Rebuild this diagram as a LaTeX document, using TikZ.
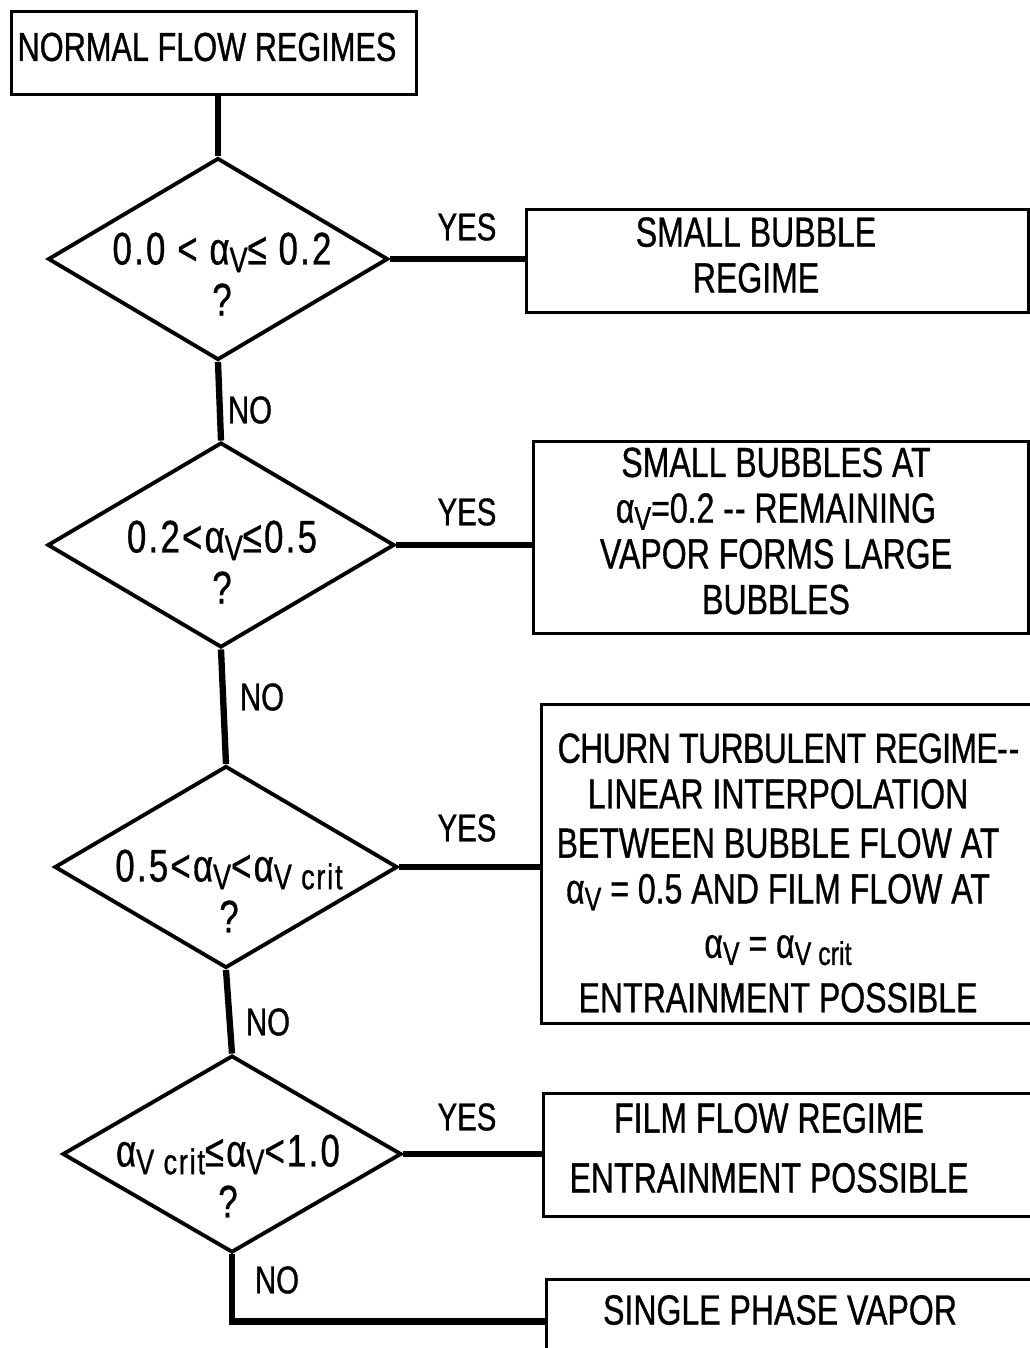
\documentclass[tikz,border=0pt]{standalone}
\usepackage{fontspec}
\setmainfont{Liberation Sans}[FakeStretch=0.76,FakeBold=0.8]
\usepackage{graphicx}
\usetikzlibrary{shapes.geometric}
\newcommand\sv[1]{\raisebox{-0.32ex}{\scalebox{0.78}{#1}}}
\newcommand\av{α\sv{V}}
\newcommand\avc{α\sv{V crit}}
\newcommand\pxl[1]{#1*0.02cm}
\newcommand\dd{-\kern0.5pt-}
\begin{document}
\begin{tikzpicture}[x=0.02cm,y=-0.02cm,
  box/.style={draw,line width=1.7pt,rectangle,inner sep=0pt,anchor=north west},
  dia/.style={draw,line width=2.2pt,diamond,inner sep=0pt},
  conn/.style={line width=3.6pt},
  txt/.style={font=\fontsize{24}{26}\selectfont,inner sep=0pt,align=center},
  qtxt/.style={font=\fontsize{26}{29}\selectfont\addfontfeature{LetterSpace=5},inner sep=0pt,align=center},
  ttl/.style={font=\fontsize{23}{26}\selectfont,inner sep=0pt},
  lab/.style={font=\fontsize{22}{25}\selectfont,inner sep=0pt}]
\clip (0,0) rectangle (1030,1348);
\fill[white] (0,0) rectangle (1030,1348);

% top box
\node[box,minimum width=\pxl{405},minimum height=\pxl{83}] (b0) at (10,10) {};
\node[ttl] (t0) at (207,47) {NORMAL FLOW REGIMES};

% diamonds
\node[dia,minimum width=\pxl{340},minimum height=\pxl{202}] (d1) at (218,259) {};
\node[qtxt] (q1) at (222,274) {0.0 < \av ≤ 0.2\\?};
\node[dia,minimum width=\pxl{347},minimum height=\pxl{205}] (d2) at (221,545) {};
\node[qtxt] (q2) at (222,562) {0.2<\av≤0.5\\?};
\node[dia,minimum width=\pxl{343},minimum height=\pxl{202}] (d3) at (226,867) {};
\node[qtxt] (q3) at (229,891) {0.5<\av<\avc\\?};
\node[dia,minimum width=\pxl{339},minimum height=\pxl{197}] (d4) at (232,1154) {};
\node[qtxt] (q4) at (228,1176) {\avc≤\av<1.0\\?};

% result boxes
\node[box,minimum width=\pxl{502},minimum height=\pxl{103}] (b1) at (525,208) {};
\node[txt] (r1) at (756,255) {SMALL BUBBLE\\REGIME};
\node[box,minimum width=\pxl{495},minimum height=\pxl{192}] (b2) at (532,440) {};
\node[txt] (r2) at (776,531) {SMALL BUBBLES AT\\\av=0.2 \dd{} REMAINING\\VAPOR FORMS LARGE\\BUBBLES};
\node[box,minimum width=\pxl{500},minimum height=\pxl{319}] (b3) at (540,703) {};
\node[txt] (r3) at (778,873) {\hspace*{12pt}{\addfontfeature{LetterSpace=-1.5}CHURN TURBULENT REGIME\dd}\\LINEAR INTERPOLATION\\[2pt]BETWEEN BUBBLE FLOW AT\\\av{} = 0.5 AND FILM FLOW AT\\[5pt]\av{} = \avc\\[5pt]ENTRAINMENT POSSIBLE};
\node[box,minimum width=\pxl{500},minimum height=\pxl{123}] (b4) at (542,1092) {};
\node[txt] (r4) at (769,1148) {FILM FLOW REGIME\\[8pt]ENTRAINMENT POSSIBLE};
\node[box,minimum width=\pxl{500},minimum height=\pxl{84}] (b5) at (545,1278) {};
\node[txt] (r5) at (780,1310) {SINGLE PHASE VAPOR};

% connectors
\draw[conn] (d1.north |- b0.south) -- (d1.north);
\draw[conn] (d1.south) -- (d2.north);
\draw[conn] (d2.south) -- (d3.north);
\draw[conn] (d3.south) -- (d4.north);
\draw[conn] (d4.south) -- (d4.south |- b5.west) -- (b5.west);
\draw[conn] (d1.east) -- (d1.east -| b1.west);
\draw[conn] (d2.east) -- (d2.east -| b2.west);
\draw[conn] (d3.east) -- (d3.east -| b3.west);
\draw[conn] (d4.east) -- (d4.east -| b4.west);

% labels
\node[lab] (y1) at (467,227) {YES};
\node[lab] (y2) at (467,512) {YES};
\node[lab] (y3) at (467,828) {YES};
\node[lab] (y4) at (467,1117) {YES};
\node[lab] (n1) at (250,410) {NO};
\node[lab] (n2) at (262,697) {NO};
\node[lab] (n3) at (268,1022) {NO};
\node[lab] (n4) at (277,1280) {NO};
\end{tikzpicture}
\end{document}
